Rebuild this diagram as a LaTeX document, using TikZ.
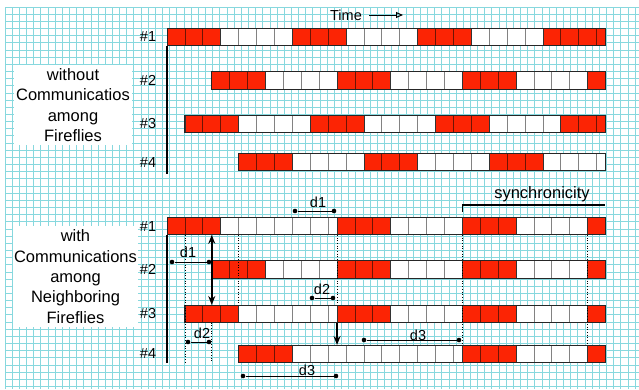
\documentclass[tikz,border=0pt]{standalone}
\usepackage{fontspec}
\setmainfont{Liberation Sans}
\definecolor{firered}{RGB}{252,36,4}
\definecolor{firedark}{RGB}{110,20,4}
\definecolor{gridcyan}{RGB}{135,216,222}
\definecolor{cellgray}{RGB}{130,130,130}
\usetikzlibrary{arrows.meta,calc}

\begin{document}
\begin{tikzpicture}[x=1pt, y=-1pt,
    gridline/.style={gridcyan, line width=0.8pt},
    rowbox/.style={inner sep=0pt, outer sep=0pt, minimum height=17.5pt, anchor=north west},
    rowline/.style={draw=black!85, line width=0.9pt},
    divwhite/.style={cellgray, line width=0.8pt},
    divfirered/.style={firedark, line width=0.8pt},
    segline/.style={black!80, line width=0.8pt},
    txtbox/.style={fill=white, inner sep=0pt, align=center,
                   font=\fontsize{16.5}{20.3}\selectfont},
    lbl/.style={inner sep=1pt, font=\fontsize{14.5}{17}\selectfont},
    dot/.style={circle, fill=black, inner sep=0pt, minimum size=4.6pt},
    dimline/.style={black, line width=0.9pt},
    dotline/.style={black, line width=0.7pt, dotted},
    axis/.style={black, line width=1.1pt},
    arr/.style={-{Stealth[length=9pt,width=7pt]}, black, line width=1.5pt},
    dblarr/.style={{Stealth[length=9pt,width=7pt]}-{Stealth[length=9pt,width=7pt]}, black, line width=1.5pt}
  ]
  \useasboundingbox[fill=white] (0,0) rectangle (639,389);
  % background paper
  \foreach \i in {0,...,88} \draw[gridline] ({5+\i*7.16},7) -- ({5+\i*7.16},389);
  \foreach \j in {0,...,53} \draw[gridline] (5,{7+\j*7.16}) -- (639,{7+\j*7.16});

  % flashing rows, 17.9pt per time step
  \foreach \nm/\lb/\yy/\st/\segs in {
      t1/1/28/0/{0/3/firered,3/7/white,7/10/firered,10/14/white,14/17/firered,17/21/white,21/24.5/firered},
      t2/2/71.7/2.5/{2.5/5.5/firered,5.5/9.5/white,9.5/12.5/firered,12.5/16.5/white,16.5/19.5/firered,19.5/23.5/white,23.5/24.5/firered},
      t3/3/115/1/{1/4/firered,4/8/white,8/11/firered,11/15/white,15/18/firered,18/22/white,22/24.5/firered},
      t4/4/153.3/4/{4/7/firered,7/11/white,11/14/firered,14/18/white,18/21/firered,21/24.5/white},
      b1/1/217.3/0/{0/3/firered,3/9.5/white,9.5/12.5/firered,12.5/16.5/white,16.5/19.5/firered,19.5/23.5/white,23.5/24.5/firered},
      b2/2/260.7/2.5/{2.5/5.5/firered,5.5/9.5/white,9.5/12.5/firered,12.5/16.5/white,16.5/19.5/firered,19.5/23.5/white,23.5/24.5/firered},
      b3/3/305/1/{1/4/firered,4/9.5/white,9.5/12.5/firered,12.5/16.5/white,16.5/19.5/firered,19.5/23.5/white,23.5/24.5/firered},
      b4/4/345/4/{4/7/firered,7/16.5/white,16.5/19.5/firered,19.5/23.5/white,23.5/24.5/firered}}{
    \node[rowbox, minimum width={(24.5-\st)*17.9}] (\nm) at ({167+\st*17.9},\yy) {};
    \node[lbl] (n\nm) at (148,{\yy+8.75}) {\#\lb};
    \foreach \s/\e/\c in \segs {
      \fill[\c] ({167+\s*17.9},\yy) rectangle ({167+\e*17.9},{\yy+17.5});
      \foreach \k in {1,...,9}{
        \pgfmathsetmacro\dx{\s+\k}
        \ifdim\dx pt<\e pt\relax
          \draw[div\c] ({167+\dx*17.9},\yy) -- ++(0,17.5);
        \fi}
      \draw[segline] ({167+\s*17.9},\yy) -- ++(0,17.5);
    }
    \draw[rowline] (\nm.north west) rectangle (\nm.south east);
  }

  \draw[axis] (t1.south west) -- ([yshift=-3pt]t1.south west |- t4.south);
  \draw[axis] (b1.south west) -- (b1.south west |- b4.south);

  \node[txtbox, minimum width=118pt, minimum height=80pt] (nocomm) at (73,105)
    {without\\Communicatios\\among\\Fireflies};
  \node[txtbox, minimum width=125pt, minimum height=101pt] (comm) at (75.5,276.5)
    {with\\Communications\\among\\Neighboring\\Fireflies};

  \node[lbl] (time) at (346,15) {Time};
  \coordinate (timeend) at (403,15);
  \draw[-{Triangle[open,length=7pt,width=6pt]}, line width=1pt, shorten <=6pt] (time) -- (timeend);

  % points where the flashes line up
  \coordinate (sA) at ({167+9.5*17.9},212);
  \coordinate (sB) at ({167+16.5*17.9},212);
  \coordinate (sC) at ({167+23.5*17.9},212);
  \coordinate (brkend) at (605,205);
  \draw[axis, line width=1.3pt] (sB) |- (brkend);
  \node[txtbox, fill=none] (sync) at (542,194) {synchronicity};

  \draw[dotline] (b1.south -| b3.west) -- (b4.south -| b3.west);
  \draw[dotline] (b3.south -| b2.west) -- (b4.south -| b2.west);
  \draw[dotline] (b1.south -| b4.west) -- (b3.north -| b4.west);
  \draw[dotline] (b1.south -| sA) -- (b3.north -| sA);
  \draw[dotline] (b1.south -| sB) -- (b4.north -| sB);
  \draw[dotline] (b1.south -| sC) -- (b4.north -| sC);
  \draw[dblarr] (b1.south -| b2.west) -- (b3.north -| b2.west);
  \draw[arr] (b3.south -| sA) -- (b4.north -| sA);

  % delays
  \node[dot] (d1a) at (295,211) {}; \node[dot] (d1b) at (334,211) {};
  \draw[dimline] (d1a) -- (d1b); \node[lbl] (d1t) at (318,202) {d1};
  \node[dot] (d1c) at (172,262) {}; \node[dot] (d1d) at (209,262) {};
  \draw[dimline] (d1c) -- (d1d); \node[lbl] (d1s) at (188,252) {d1};
  \node[dot] (d2a) at (312,298) {}; \node[dot] (d2b) at (333,298) {};
  \draw[dimline] (d2a) -- (d2b); \node[lbl] (d2t) at (322,289) {d2};
  \node[dot] (d2c) at (188,342) {}; \node[dot] (d2d) at (209,342) {};
  \draw[dimline] (d2c) -- (d2d); \node[lbl] (d2s) at (202,333.5) {d2};
  \node[dot] (d3a) at (364,340) {}; \node[dot] (d3b) at (459,340) {};
  \draw[dimline] (d3a) -- (d3b); \node[lbl] (d3t) at (418,335) {d3};
  \node[dot] (d3c) at (243,376) {}; \node[dot] (d3d) at (336,376) {};
  \draw[dimline] (d3c) -- (d3d); \node[lbl] (d3s) at (307,370.5) {d3};
\end{tikzpicture}
\end{document}
